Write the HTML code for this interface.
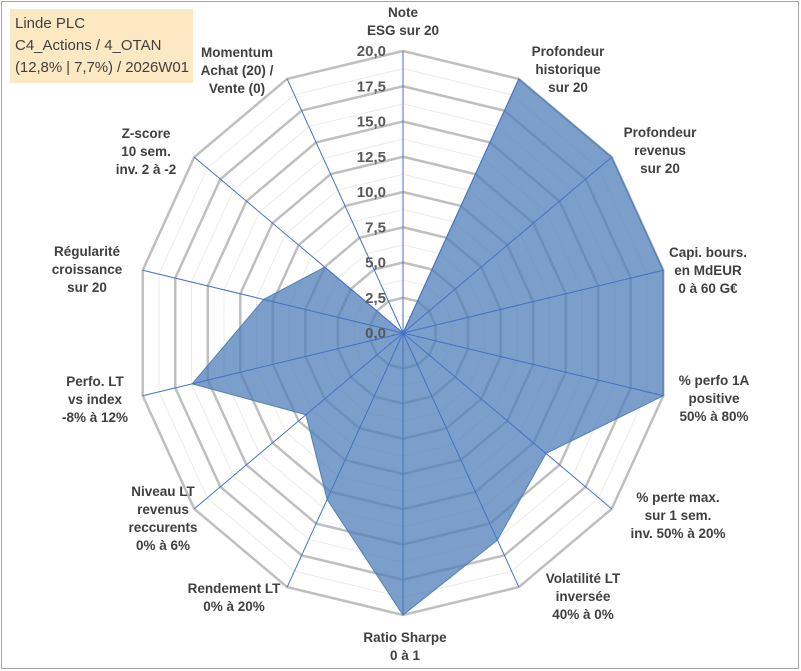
<!DOCTYPE html>
<html><head><meta charset="utf-8">
<style>
body{margin:0;background:#fff;font-family:"Liberation Sans",Arial,sans-serif;}
#wrap{position:relative;width:801px;height:671px;overflow:hidden;}
.lbl{font-weight:bold;font-size:13.5px;fill:#404040;}
.tick{font-weight:bold;font-size:15px;fill:#595959;}
</style></head><body>
<div id="wrap">
<svg id="svg" width="801" height="671" xmlns="http://www.w3.org/2000/svg">
<rect x="1.5" y="1.5" width="797" height="667" fill="#fff" stroke="#a6a6a6"/>
<rect x="10" y="9" width="183" height="74" fill="#fde8c4"/>
<text x="15" y="28" font-size="15" fill="#404040">Linde PLC</text>
<text x="15" y="50" font-size="15" fill="#404040">C4_Actions / 4_OTAN</text>
<text x="15" y="72" font-size="15" fill="#404040" textLength="174">(12,8% | 7,7%) / 2026W01</text>
<g id="grid"></g><g id="series"></g><g id="axes"></g><g id="ticks"></g><g id="labels"></g>
</svg>
</div>
<script>
const categories=[["Note","ESG sur 20"],["Profondeur","historique","sur 20"],["Profondeur","revenus","sur 20"],["Capi. bours.","en MdEUR","0 à 60 G€"],["% perfo 1A","positive","50% à 80%"],["% perte max.","sur 1 sem.","inv. 50% à 20%"],["Volatilité LT","inversée","40% à 0%"],["Ratio Sharpe","0 à 1"],["Rendement LT","0% à 20%"],["Niveau LT","revenus","reccurents","0% à 6%"],["Perfo. LT","vs index","-8% à 12%"],["Régularité","croissance","sur 20"],["Z-score","10 sem.","inv. 2 à -2"],["Momentum","Achat (20) /","Vente (0)"]];
const values=[0,20,20,20,20,13.7,16.3,20,13.1,9.3,16.2,10.7,7.5,0];
const tickLabels=["0,0","2,5","5,0","7,5","10,0","12,5","15,0","17,5","20,0"];
const maxVal=20;
const labelPos=[[403,12],[568,51],[660,132],[708,252],[714,380],[678,497],[583,578],[405,637],[234,588],[163,491],[95,381],[87,251],[146,133],[237,52]];
const cx=403,cy=333,rx=267,ry=282,N=categories.length;
const NS="http://www.w3.org/2000/svg";
function mk(tag,attrs,parent){const e=document.createElementNS(NS,tag);for(const k in attrs)e.setAttribute(k,attrs[k]);document.getElementById(parent).appendChild(e);return e;}
function pt(i,v){const a=2*Math.PI*i/N;return [cx+rx*(v/maxVal)*Math.sin(a),cy-ry*(v/maxVal)*Math.cos(a)];}
for(let s=1;s<=16;s++){const v=s*1.25;const pts=[];for(let i=0;i<N;i++)pts.push(pt(i,v).join(','));
const major=s%2===0;
const e=mk('polygon',{points:pts.join(' '),fill:'none',stroke:major?'#bfbfbf':'#ebebeb','stroke-width':major?2.5:1},'grid');

}
const sp=values.map((v,i)=>pt(i,v).join(',')).join(' ');
const poly=mk('polygon',{points:sp,fill:'#4f7fb8','fill-opacity':0.75,stroke:'#4f7fb8','stroke-width':1},'series');


for(let i=0;i<N;i++){const [x,y]=pt(i,maxVal);const l=mk('line',{x1:cx,y1:cy,x2:x,y2:y,stroke:'#4472c4','stroke-width':1},'axes');

}
tickLabels.forEach((t,k)=>{const v=k*maxVal/(tickLabels.length-1);const y=cy-ry*v/maxVal;
const e=mk('text',{x:386,y:y+5,'text-anchor':'end',class:'tick'},'ticks');e.textContent=t;

});
categories.forEach((lines,i)=>{const [x,y0]=labelPos[i];
const t=mk('text',{x:x,'text-anchor':'middle',class:'lbl'},'labels');


lines.forEach((ln,j)=>{const s=document.createElementNS(NS,'tspan');s.setAttribute('x',x);s.setAttribute('y',y0+j*18+5);s.textContent=ln;t.appendChild(s);});});
</script>
</body></html>
